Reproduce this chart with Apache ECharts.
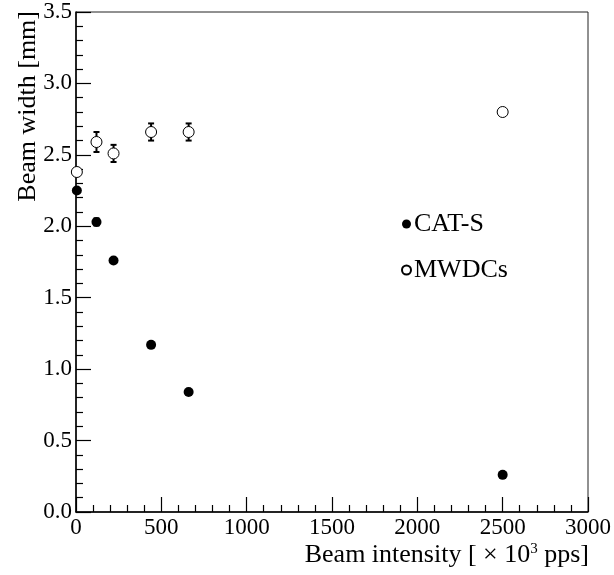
<!DOCTYPE html>
<html><head><meta charset="utf-8">
<script src="https://cdn.jsdelivr.net/npm/echarts@6/dist/echarts.min.js"></script>
<style>html,body{margin:0;padding:0;background:#fff}#c{width:614px;height:575px}</style>
</head><body><div id="c"></div>
<script>
// Data
const catsX = [5, 120, 220, 440, 660, 2500];
const catsY = [2.25, 2.03, 1.76, 1.17, 0.84, 0.26];
const catsErr = [0.0, 0.025, 0.0, 0.0, 0.0, 0.0];
const mwdcX = [5, 120, 220, 440, 660, 2500];
const mwdcY = [2.38, 2.59, 2.51, 2.66, 2.66, 2.80];
const mwdcErr = [0.0, 0.07, 0.06, 0.06, 0.06, 0.0];
const seriesNames = ['CAT-S', 'MWDCs'];
const xTitle = 'Beam intensity [ × 10';
const yTitle = 'Beam width [mm]';

const FONT = '"Liberation Serif", "DejaVu Serif", serif';
const chart = echarts.init(document.getElementById('c'));

function errData(xs, ys, es) {
  return xs.map((x, i) => [x, ys[i] - es[i], ys[i] + es[i]]).filter((d, i) => es[i] > 0);
}
function errRender(params, api) {
  const x = api.value(0);
  const lo = api.coord([x, api.value(1)]);
  const hi = api.coord([x, api.value(2)]);
  const cw = 3;
  const st = { stroke: '#000', lineWidth: 2 };
  return {
    type: 'group',
    children: [
      { type: 'line', shape: { x1: lo[0], y1: lo[1], x2: hi[0], y2: hi[1] }, style: st },
      { type: 'line', shape: { x1: lo[0] - cw, y1: lo[1], x2: lo[0] + cw, y2: lo[1] }, style: st },
      { type: 'line', shape: { x1: hi[0] - cw, y1: hi[1], x2: hi[0] + cw, y2: hi[1] }, style: st }
    ]
  };
}

chart.setOption({
  animation: false,
  backgroundColor: '#fff',
  grid: { left: 76, right: 25, top: 12, bottom: 63, show: true, borderColor: '#222', borderWidth: 1 },
  xAxis: {
    type: 'value', min: 0, max: 3000, interval: 500,
    axisLine: { show: true, onZero: false, lineStyle: { color: '#000', width: 1.5 } },
    axisTick: { show: true, inside: true, length: 15, lineStyle: { color: '#000', width: 1.2 } },
    minorTick: { show: true, splitNumber: 5, length: 7, lineStyle: { color: '#000', width: 1.2 } },
    splitLine: { show: false },
    axisLabel: { color: '#000', fontFamily: FONT, fontSize: 23, margin: 4, formatter: v => String(v) }
  },
  yAxis: {
    type: 'value', min: 0, max: 3.5, interval: 0.5,
    axisLine: { show: true, onZero: false, lineStyle: { color: '#000', width: 1.5 } },
    axisTick: { show: true, inside: true, length: 15, lineStyle: { color: '#000', width: 1.2 } },
    minorTick: { show: true, splitNumber: 5, length: 7, lineStyle: { color: '#000', width: 1.2 } },
    splitLine: { show: false },
    axisLabel: { color: '#000', fontFamily: FONT, fontSize: 23, margin: 4, formatter: v => v.toFixed(1) }
  },
  legend: {
    orient: 'vertical', left: 396, top: 206, itemGap: 20,
    itemWidth: 9, itemHeight: 9,
    textStyle: { color: '#000', fontFamily: FONT, fontSize: 26, padding: [0, 0, 0, -2] },
    data: [
      { name: seriesNames[0], icon: 'circle' },
      { name: seriesNames[1], icon: 'circle' }
    ]
  },
  series: [
    { type: 'custom', renderItem: errRender, data: errData(catsX, catsY, catsErr), z: 1 },
    { type: 'custom', renderItem: errRender, data: errData(mwdcX, mwdcY, mwdcErr), z: 1 },
    {
      name: seriesNames[0], type: 'scatter', symbol: 'circle', symbolSize: 10, z: 3,
      itemStyle: { color: '#000', opacity: 1 },
      data: catsX.map((x, i) => [x, catsY[i]])
    },
    {
      name: seriesNames[1], type: 'scatter', symbol: 'circle', symbolSize: 11, z: 3,
      itemStyle: { color: '#fff', borderColor: '#000', borderWidth: 1, opacity: 1 },
      data: mwdcX.map((x, i) => [x, mwdcY[i]])
    }
  ],
  graphic: [
    {
      type: 'text', x: 28, y: 11, rotation: Math.PI / 2,
      style: { text: yTitle, fill: '#000', font: '26px ' + FONT, align: 'right', verticalAlign: 'middle' }
    },
    {
      type: 'text', x: 589, y: 555,
      style: {
        text: '{a|' + xTitle + '}{s|3}{a| pps]}',
        align: 'right', verticalAlign: 'middle',
        rich: {
          a: { fill: '#000', fontFamily: FONT, fontSize: 26 },
          s: { fill: '#000', fontFamily: FONT, fontSize: 15, verticalAlign: 'top', padding: [0, 0, 12, 0] }
        }
      }
    }
  ]
});
</script></body></html>
